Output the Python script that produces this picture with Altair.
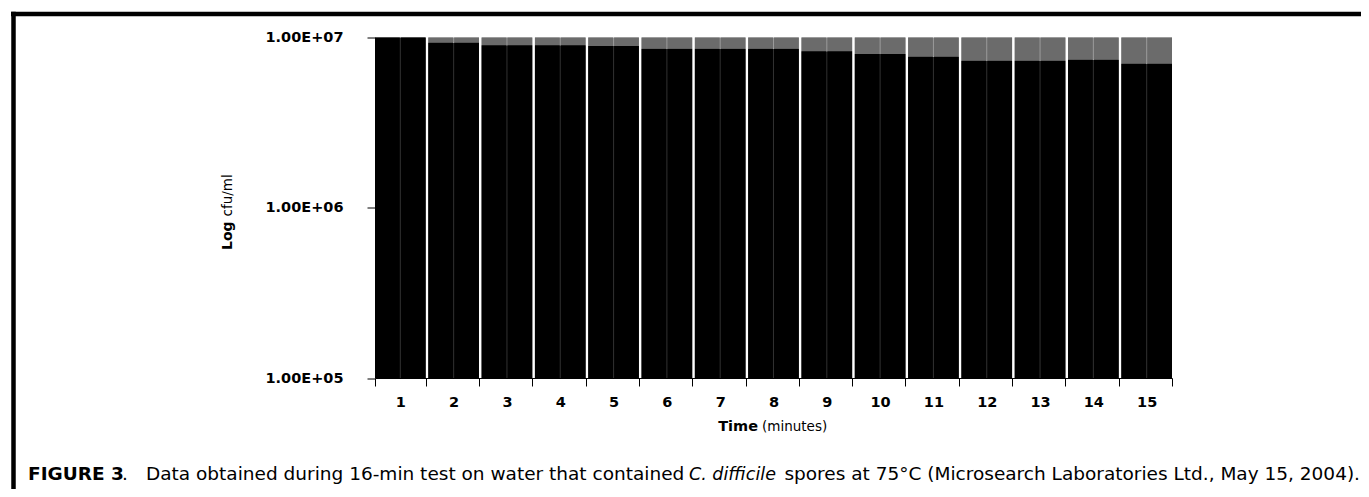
import altair as alt
import pandas as pd

# ---- data ----
times = list(range(1, 16))
rep_a = [1.0e7, 9.3e6, 9.0e6, 9.0e6, 8.9e6, 8.6e6, 8.6e6, 8.6e6, 8.3e6, 8.0e6, 7.7e6, 7.3e6, 7.3e6, 7.4e6, 7.0e6]
rep_b = [1.0e7, 9.3e6, 9.0e6, 9.0e6, 8.9e6, 8.6e6, 8.6e6, 8.6e6, 8.3e6, 8.0e6, 7.7e6, 7.3e6, 7.3e6, 7.4e6, 7.0e6]
y_ticks = [1e5, 1e6, 1e7]
y_min, y_max = 1e5, 1e7

rows = []
for t, a, b in zip(times, rep_a, rep_b):
    rows.append({"time": t, "rep": "a", "cfu": a})
    rows.append({"time": t, "rep": "b", "cfu": b})
df = pd.DataFrame(rows)
df_cat = pd.DataFrame({"time": times, "cfu": [min(a, b) for a, b in zip(rep_a, rep_b)]})

W, H = 797, 340.5
FONT = "DejaVu Sans"

xenc = alt.X("time:O", title=None,
             scale=alt.Scale(paddingInner=0.05, paddingOuter=0),
             axis=alt.Axis(labelAngle=0, tickBand="extent", tickSize=8, labelPadding=9,
                           labelFont=FONT, labelFontWeight="bold", labelFontSize=14.5,
                           labelColor="black", tickColor="black", domainColor="black",
                           grid=False))
yscale = alt.Scale(type="log", domain=[y_min, y_max], nice=False)
yaxis = alt.Axis(values=y_ticks, labelExpr="'1.00E+0' + round(log(datum.value)/LN10)",
                 tickSize=8, labelPadding=24, labelFont=FONT, labelFontWeight="bold",
                 labelFontSize=14.5, labelColor="black", tickColor="black",
                 domainColor="black", grid=False, title=None)
xoff = alt.XOffset("rep:N", scale=alt.Scale(paddingInner=0.04))

bg_low = alt.Chart(df_cat).mark_bar(color="#303030").encode(
    x=xenc, y=alt.Y("cfu:Q", scale=yscale, axis=yaxis), y2=alt.datum(y_min))
bg_high = alt.Chart(df_cat).mark_bar(color="#9a9a9a").encode(
    x=xenc, y=alt.Y("cfu:Q", scale=yscale, axis=yaxis), y2=alt.datum(y_max))
grey = alt.Chart(df).mark_bar(color="#6b6b6b").encode(
    x=xenc, xOffset=xoff, y=alt.Y("cfu:Q", scale=yscale, axis=yaxis), y2=alt.datum(y_max))
black = alt.Chart(df).mark_bar(color="#000000").encode(
    x=xenc, xOffset=xoff, y=alt.Y("cfu:Q", scale=yscale, axis=yaxis), y2=alt.datum(y_min))

one = pd.DataFrame({"k": [0]})

def txt(s, x, y, size, weight="normal", style="normal", align="left", baseline="alphabetic", angle=0):
    kw = dict(text=s, font=FONT, fontSize=size, fontWeight=weight, fontStyle=style,
              align=align, baseline=baseline, color="black")
    if angle:
        kw["angle"] = angle
    return alt.Chart(one).mark_text(**kw).encode(x=alt.value(x), y=alt.value(y))

# axis titles
y_title1 = txt("Log", -147, 212.5, 14, weight="bold", align="left", baseline="middle", angle=270)
y_title2 = txt("cfu/ml", -147, 179, 13.5, align="left", baseline="middle", angle=270)
x_title1 = txt("Time", 383, 389.5, 14.5, weight="bold", align="right", baseline="middle")
x_title2 = txt("(minutes)", 387, 389.5, 13.5, align="left", baseline="middle")

# caption
cap_y = 442.5
CS = 18.5
cap1 = txt("FIGURE 3", -347, cap_y, CS, weight="bold")
cap2 = txt(".", -253, cap_y, CS)
cap3 = txt("Data obtained during 16-min test on water that contained", -229, cap_y, CS)
cap4 = txt("C. difficile", 314, cap_y, 17.5, style="italic")
cap5 = txt("spores at 75\u00b0C (Microsearch Laboratories Ltd., May 15, 2004).", 985, cap_y, CS,
           align="right")

# frame lines
frame_top = alt.Chart(one).mark_rule(color="black", strokeWidth=4.5).encode(
    x=alt.value(-364), x2=alt.value(1000), y=alt.value(-23.5))
frame_left = alt.Chart(one).mark_rule(color="black", strokeWidth=4.5).encode(
    x=alt.value(-361.5), y=alt.value(-25.75), y2=alt.value(470))

chart = alt.layer(
    bg_low, bg_high, grey, black,
    y_title1, y_title2, x_title1, x_title2,
    cap1, cap2, cap3, cap4, cap5,
    frame_top, frame_left,
).properties(
    width=W, height=H, autosize="none",
    padding={"left": 367, "top": 29.5, "right": 189, "bottom": 111},
).configure_view(stroke=None)

chart.save("out.html", embed_options={"renderer": "svg", "actions": False})
